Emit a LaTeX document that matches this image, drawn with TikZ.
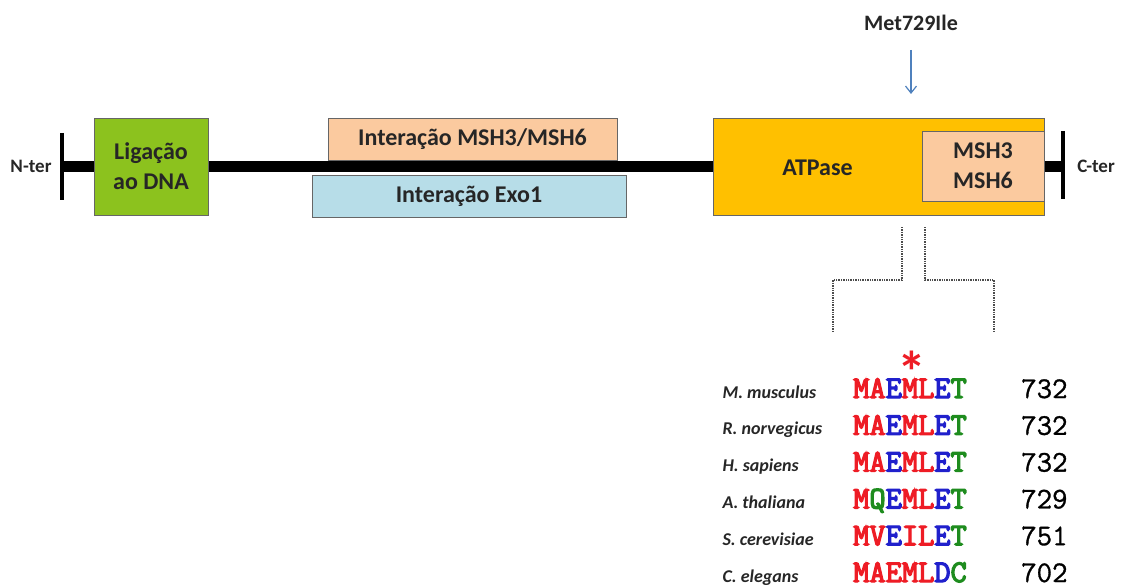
\documentclass[tikz,border=0pt]{standalone}
\usepackage{fontspec}
\setmainfont{Carlito}
\newfontfamily\seqfont{Latin Modern Mono}[FakeBold=4]
\newfontfamily\numfont{Latin Modern Mono}[FakeBold=1]
\usetikzlibrary{arrows.meta}
\definecolor{dnagreen}{HTML}{8CC21E}
\definecolor{peach}{HTML}{FBCA9F}
\definecolor{exoblue}{HTML}{B7DDE8}
\definecolor{atpgold}{HTML}{FFC000}
\definecolor{mutblue}{HTML}{4F81BD}
\definecolor{aared}{HTML}{EE1C25}
\definecolor{aablue}{HTML}{2020CC}
\definecolor{aagreen}{HTML}{1E8C1E}
\newcommand\aaR[1]{\textcolor{aared}{#1}}
\newcommand\aaB[1]{\textcolor{aablue}{#1}}
\newcommand\aaG[1]{\textcolor{aagreen}{#1}}
\begin{document}
\begin{tikzpicture}[%
    x=1pt, y=-1pt,
    domainbox/.style={draw=black!60, line width=0.8pt, inner sep=0pt, align=center,
      font=\fontsize{24}{30}\selectfont\bfseries, text=black!85},
    lbl/.style={font=\fontsize{24}{30}\selectfont\bfseries, text=black!85, inner sep=0pt},
    endbar/.style={line width=4pt},
    zoomline/.style={densely dotted, line width=1.4pt, black!70},
    species/.style={anchor=base west, font=\fontsize{18}{22}\selectfont\bfseries\itshape, text=black!85},
    seq/.style={anchor=base west, inner sep=0pt, font=\fontsize{31.5}{32}\seqfont},
    num/.style={anchor=base west, inner sep=0pt, font=\fontsize{30}{30}\numfont, text=black}]
  \useasboundingbox (0,0) rectangle (1121,588);
  \coordinate (nbarT) at (62,133);
  \coordinate (nbarB) at (62,200);
  \coordinate (cbarT) at (1063,131);
  \coordinate (cbarB) at (1063,199);
  \draw[line width=11pt] (62,167) coordinate (nend) -- (1063,167) coordinate (cend);
  \draw[endbar] (nbarT) -- (nbarB);
  \draw[endbar] (cbarT) -- (cbarB);
  \node (nter) [lbl, font=\fontsize{19}{22}\selectfont\bfseries] at (31,166) {N-ter};
  \node (cter) [lbl, font=\fontsize{19}{22}\selectfont\bfseries] at (1096,166) {C-ter};
  \node (dna) [domainbox, fill=dnagreen, minimum width=114pt, minimum height=97pt] at (151,166.5)
    {Ligação\\ao DNA};
  \node (mshint) [domainbox, fill=peach, minimum width=289pt, minimum height=42pt] at (472.5,139)
    {Interação MSH3/MSH6};
  \node (exo) [domainbox, fill=exoblue, minimum width=314pt, minimum height=42pt] at (469,196)
    {Interação Exo1};
  \node (atp) [domainbox, fill=atpgold, minimum width=331pt, minimum height=97pt] at (878.5,166.5) {};
  \node (atptxt) [lbl] at (817.5,168) {ATPase};
  \node (mshc) [domainbox, fill=peach, minimum width=122pt, minimum height=70pt] at (983,166)
    {MSH3\\MSH6};
  \node (mut) [lbl, font=\fontsize{22}{26}\selectfont\bfseries] at (911,23) {Met729Ile};
  \coordinate (mutstart) at (911,50);
  \coordinate (mutend) at (911,94);
  \draw[-{Straight Barb[length=7pt,width=11pt]}, mutblue, line width=1.2pt] (mutstart) -- (mutend);
  \draw[zoomline] (902,227) -- (902,280) -- (833,280) -- (833,333);
  \draw[zoomline] (925,227) -- (925,280) -- (994,280) -- (994,333);
  \node (star) [text=aared, font=\fontsize{58}{58}\selectfont\bfseries, inner sep=0pt,
    anchor=base, text depth=-20pt] at (912,392) {*};
  \foreach \sp/\sq/\nm [count=\i] in {%
      M. musculus/{\aaR{MA}\aaB{E}\aaR{ML}\aaB{E}\aaG{T}}/732,
      R. norvegicus/{\aaR{MA}\aaB{E}\aaR{ML}\aaB{E}\aaG{T}}/732,
      H. sapiens/{\aaR{MA}\aaB{E}\aaR{ML}\aaB{E}\aaG{T}}/732,
      A. thaliana/{\aaR{M}\aaG{Q}\aaB{E}\aaR{ML}\aaB{E}\aaG{T}}/729,
      S. cerevisiae/{\aaR{MV}\aaB{E}\aaR{IL}\aaB{E}\aaG{T}}/751,
      C. elegans/{\aaR{MAEML}\aaB{D}\aaG{C}}/702} {
    \node (sp\i) [species] at (719,{361.2+36.8*\i}) {\sp};
    \node (sq\i) [seq] at (853,{361.2+36.8*\i}) {\sq};
    \node (nm\i) [num] at (1021,{361.2+36.8*\i}) {\nm};
  }
\end{tikzpicture}
\end{document}
